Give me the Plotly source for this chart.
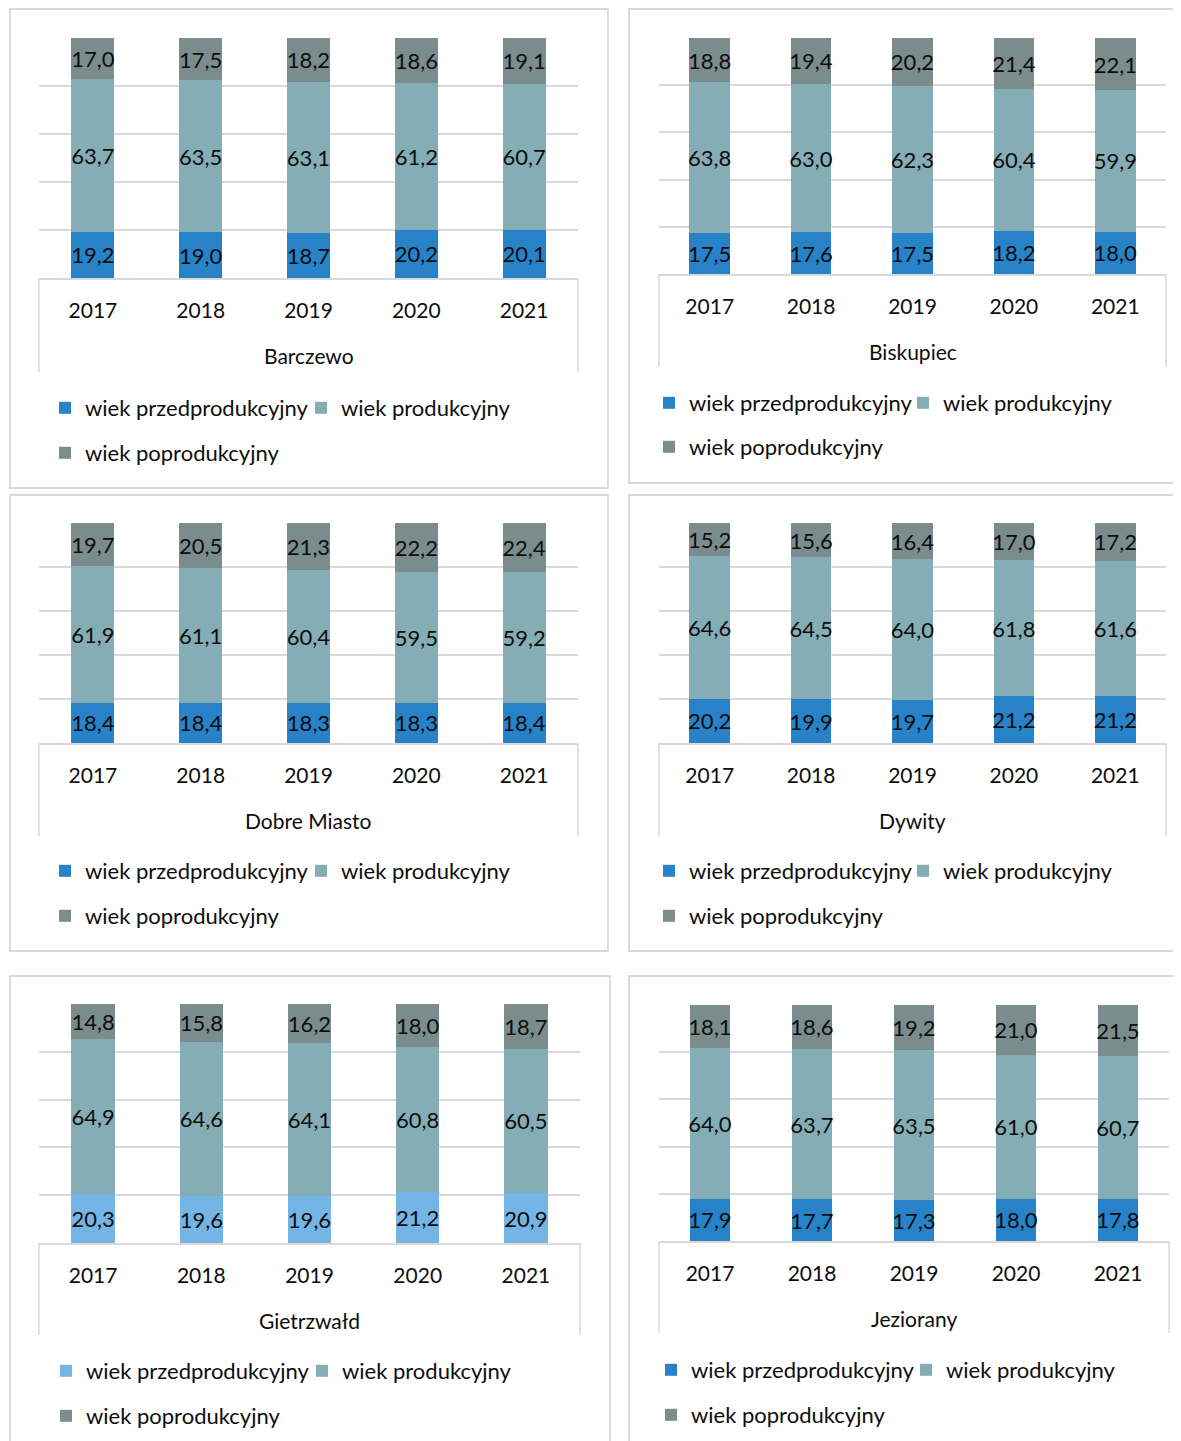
import plotly.graph_objects as go

# The page body adds an 8 px margin, so figure coords = reference coords - 8
OFF = 8
W, H = 1181 - OFF, 1441 - OFF

years = ["2017", "2018", "2019", "2020", "2021"]
gminy = ["Barczewo", "Biskupiec", "Dobre Miasto", "Dywity", "Gietrzwałd", "Jeziorany"]
series_names = ["wiek przedprodukcyjny", "wiek produkcyjny", "wiek poprodukcyjny"]

barczewo_pre = [19.2, 19.0, 18.7, 20.2, 20.1]
barczewo_prod = [63.7, 63.5, 63.1, 61.2, 60.7]
barczewo_post = [17.0, 17.5, 18.2, 18.6, 19.1]

biskupiec_pre = [17.5, 17.6, 17.5, 18.2, 18.0]
biskupiec_prod = [63.8, 63.0, 62.3, 60.4, 59.9]
biskupiec_post = [18.8, 19.4, 20.2, 21.4, 22.1]

dobre_miasto_pre = [18.4, 18.4, 18.3, 18.3, 18.4]
dobre_miasto_prod = [61.9, 61.1, 60.4, 59.5, 59.2]
dobre_miasto_post = [19.7, 20.5, 21.3, 22.2, 22.4]

dywity_pre = [20.2, 19.9, 19.7, 21.2, 21.2]
dywity_prod = [64.6, 64.5, 64.0, 61.8, 61.6]
dywity_post = [15.2, 15.6, 16.4, 17.0, 17.2]

gietrzwald_pre = [20.3, 19.6, 19.6, 21.2, 20.9]
gietrzwald_prod = [64.9, 64.6, 64.1, 60.8, 60.5]
gietrzwald_post = [14.8, 15.8, 16.2, 18.0, 18.7]

jeziorany_pre = [17.9, 17.7, 17.3, 18.0, 17.8]
jeziorany_prod = [64.0, 63.7, 63.5, 61.0, 60.7]
jeziorany_post = [18.1, 18.6, 19.2, 21.0, 21.5]

data = [
    (barczewo_pre, barczewo_prod, barczewo_post),
    (biskupiec_pre, biskupiec_prod, biskupiec_post),
    (dobre_miasto_pre, dobre_miasto_prod, dobre_miasto_post),
    (dywity_pre, dywity_prod, dywity_post),
    (gietrzwald_pre, gietrzwald_prod, gietrzwald_post),
    (jeziorany_pre, jeziorany_prod, jeziorany_post),
]

C_PRE = "#2782C8"
C_PRE_LIGHT = "#75B5E5"
C_PROD = "#85ADB5"
C_POST = "#7B8C8D"
GRID = "#D9D9D9"
FONT = "Lato"
TXT = "#0D0D0D"

# pixel layout per panel (reference coords): plot (L,R,T,B), border, box bottom, label y, legend rows, legend square lefts
panels = [
    dict(L=39, R=578, T=38, B=278, border=(10, 9, 608, 488), boxb=372, lab=356, rows=(408, 453), sq=(65, 318)),
    dict(L=659, R=1166, T=38, B=274, border=(629, 9, 1195, 483), boxb=367, lab=351, rows=(403, 447), sq=(669, 920)),
    dict(L=39, R=578, T=523, B=743, border=(10, 495, 608, 951), boxb=836, lab=820, rows=(871, 916), sq=(65, 318)),
    dict(L=659, R=1166, T=523, B=743, border=(629, 495, 1195, 951), boxb=836, lab=820, rows=(871, 916), sq=(669, 920)),
    dict(L=39, R=580, T=1004, B=1243, border=(10, 976, 610, 1460), boxb=1335, lab=1320, rows=(1371, 1416), sq=(66, 319)),
    dict(L=659, R=1169, T=1005, B=1241, border=(629, 976, 1195, 1460), boxb=1333, lab=1318, rows=(1370, 1415), sq=(671, 923)),
]

def px(x):
    return (x - OFF) / W

def py(y):
    return 1 - (y - OFF) / H

def fmt(v):
    return f"{v:.1f}".replace(".", ",")

fig = go.Figure()
shapes = []
annotations = []
layout = {}
leg_idx = 0

for i, (p, vals, name) in enumerate(zip(panels, data, gminy)):
    k = i + 1
    xa = "x" if k == 1 else f"x{k}"
    ya = "y" if k == 1 else f"y{k}"
    colors = [C_PRE_LIGHT if name == "Gietrzwałd" else C_PRE, C_PROD, C_POST]
    for j, (sname, v, col) in enumerate(zip(series_names, vals, colors)):
        leg_idx += 1
        lname = "legend" if leg_idx == 1 else f"legend{leg_idx}"
        fig.add_trace(go.Bar(
            x=years, y=v, name=sname, marker=dict(color=col, line=dict(width=0)),
            text=[fmt(t) for t in v], textposition="inside", insidetextanchor="middle",
            textangle=0, constraintext="none",
            textfont=dict(family=FONT, size=22, color=TXT),
            xaxis=xa, yaxis=ya, legend=lname, showlegend=True,
        ))
        row_y = p["rows"][0] if j < 2 else p["rows"][1]
        sq_left = p["sq"][j] if j < 2 else p["sq"][0]
        layout[lname] = dict(
            x=px(sq_left - 20 if j != 1 else sq_left - 17), xanchor="left", y=py(row_y), yanchor="middle",
            orientation="h", bgcolor="rgba(0,0,0,0)",
            font=dict(family=FONT, size=22, color=TXT),
            itemclick=False, itemdoubleclick=False,
        )
    xkey = "xaxis" if k == 1 else f"xaxis{k}"
    ykey = "yaxis" if k == 1 else f"yaxis{k}"
    layout[xkey] = dict(
        domain=[px(p["L"]), px(p["R"])], anchor=ya, type="category",
        showline=True, linecolor=GRID, linewidth=1.5, showgrid=False,
        ticks="", ticklabelstandoff=13,
        tickfont=dict(family=FONT, size=21, color=TXT), fixedrange=True,
    )
    layout[ykey] = dict(
        domain=[py(p["B"]), py(p["T"])], anchor=xa, range=[0, 100],
        showticklabels=False, showgrid=True, gridcolor=GRID, gridwidth=1.5,
        dtick=20, zeroline=False, showline=False, fixedrange=True,
    )
    bx0, by0, bx1, by1 = p["border"]
    shapes.append(dict(type="rect", xref="paper", yref="paper",
                       x0=px(bx0), x1=px(bx1), y0=py(by0), y1=py(by1),
                       line=dict(color=GRID, width=1.8), fillcolor="rgba(0,0,0,0)", layer="below"))
    for xx in (p["L"], p["R"]):
        shapes.append(dict(type="line", xref="paper", yref="paper",
                           x0=px(xx), x1=px(xx), y0=py(p["B"]), y1=py(p["boxb"]),
                           line=dict(color=GRID, width=1.5)))
    annotations.append(dict(text=name, xref="paper", yref="paper",
                            x=px((p["L"] + p["R"]) / 2), y=py(p["lab"]),
                            xanchor="center", yanchor="middle", showarrow=False,
                            font=dict(family=FONT, size=21, color=TXT)))

fig.update_layout(
    width=W, height=H, margin=dict(l=0, r=0, t=0, b=0),
    paper_bgcolor="white", plot_bgcolor="white",
    barmode="stack", barnorm="percent", bargap=0.6,
    shapes=shapes, annotations=annotations,
    font=dict(family=FONT, color=TXT),
    **layout,
)

fig.write_html("out.html")
